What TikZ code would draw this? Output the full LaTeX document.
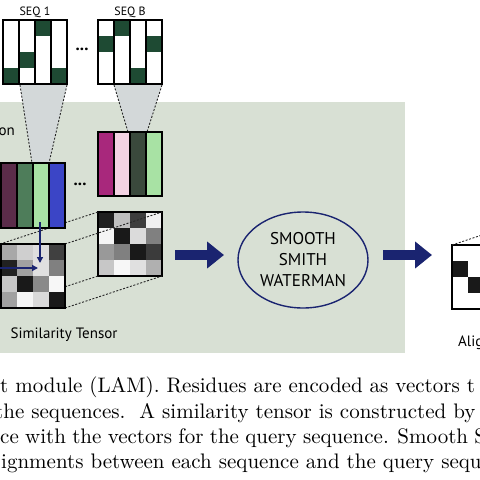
\documentclass[tikz,border=0pt]{standalone}
\usepackage{fontspec}
\newfontfamily\lab{PT Sans}
\newfontfamily\capfont{lmroman10-regular}[Extension=.otf]
\usetikzlibrary{arrows.meta,shapes.geometric}
\definecolor{panel}{HTML}{D8E0D4}
\definecolor{funnel}{HTML}{D3D8D9}
\definecolor{seqdark}{HTML}{1E4A33}
\definecolor{navy}{HTML}{1A2470}
\definecolor{qa}{HTML}{5B2C4A}
\definecolor{qb}{HTML}{4E7D5A}
\definecolor{qc}{HTML}{A8E2A4}
\definecolor{qd}{HTML}{3B45C6}
\definecolor{ba}{HTML}{A8287C}
\definecolor{bb}{HTML}{F3D3E3}
\definecolor{bc}{HTML}{3A493C}
\tikzset{
  boxline/.style={draw=black,line width=1.3pt},
  dashline/.style={draw=black!85,line width=0.9pt,dash pattern=on 2pt off 1.6pt},
  bigarrow/.style={draw=navy,line width=10pt,-{Triangle[length=17pt,width=26pt]}},
  smallarrow/.style={draw=navy,line width=1.4pt,-{Triangle[length=6pt,width=6pt]}},
  lbl/.style={inner sep=0pt,font=\lab\fontsize{15}{17}\selectfont},
  dotstext/.style={inner sep=0pt,font=\lab\bfseries\fontsize{17}{17}\selectfont},
  captext/.style={inner sep=0pt,anchor=base west,font=\capfont\fontsize{21}{25}\selectfont},
}
\begin{document}
\begin{tikzpicture}[x=1pt,y=-1pt]
\useasboundingbox (0,0) rectangle (480,480);
\clip (0,0) rectangle (480,480);
% panel
\fill[panel] (0,102) rectangle (405,353);
% funnels
\fill[funnel] (20,85) -- (67,85) -- (49,163) -- (32,163) -- cycle;
\draw[dashline] (20,85) -- (32,163) (67,85) -- (49,163);
\fill[funnel] (114,85) -- (162,85) -- (147,132) -- (128,132) -- cycle;
\draw[dashline] (114,85) -- (128,132) (162,85) -- (147,132);
% SEQ 1
\fill[white] (3,20) rectangle (67,84);
\foreach \c/\r in {0/3,1/2,2/0,3/3} \fill[seqdark] ({3+16*\c},{20+16*\r}) rectangle +(16,16);
\foreach \c in {0,...,3} \draw[boxline] ({3+16*\c},20) rectangle +(16,64);
\node[lbl,font=\lab\fontsize{12}{14}\selectfont] (seq1) at (35,12) {SEQ 1};
% SEQ B
\fill[white] (98,20) rectangle (162,84);
\foreach \c/\r in {0/1,1/0,2/3,3/1} \fill[seqdark] ({98+16*\c},{20+16*\r}) rectangle +(16,16);
\foreach \c in {0,...,3} \draw[boxline] ({98+16*\c},20) rectangle +(16,64);
\node[lbl,font=\lab\fontsize{12}{14}\selectfont] (seqb) at (130,12) {SEQ B};
\node[dotstext] (dots1) at (82,49) {...};
% "on" label
\node[lbl,anchor=west] (onlbl) at (-1.5,132) {on};
% colour box B
\foreach \c/\col in {0/ba,1/bb,2/bc,3/qc} {
  \fill[\col] ({98+16*\c},132) rectangle +(16,64);
  \draw[boxline] ({98+16*\c},132) rectangle +(16,64);
}
\node[dotstext] (dots2) at (80,184) {...};
% matrix 2 (back)
\foreach \r/\vals in {0/{12,75,24,94},1/{96,10,86,50},2/{60,50,10,23},3/{78,97,88,69}} {
  \foreach \v [count=\c from 0] in \vals
    \fill[white!\v!black] ({98+16*\c},{212+16*\r}) rectangle +(16,16);
}
\draw[boxline] (98,212) rectangle (162,276);
% perspective dashed lines
\draw[dashline] (0,244) -- (98,212);
\draw[dashline] (65,244) -- (162,212);
\draw[dashline] (0,308) -- (98,276);
\draw[dashline] (65,308) -- (162,276);
% colour box 1
\foreach \c/\col in {0/qa,1/qb,2/qc,3/qd} {
  \fill[\col] ({1+16*\c},163) rectangle +(16,65);
  \draw[boxline] ({1+16*\c},163) rectangle +(16,65);
}
% matrix 1 (front)
\foreach \r/\vals in {0/{66,81,87,25},1/{13,63,88,50},2/{78,10,54,97},3/{63,96,85,10}} {
  \foreach \v [count=\c from 0] in \vals
    \fill[white!\v!black] ({1+16*\c},{244+16*\r}) rectangle +(16,16);
}
\draw[boxline] (1,244) rectangle (65,308);
% small arrows
\coordinate (va) at (40,222);
\coordinate (vb) at (40,263);
\coordinate (ha) at (-2,268);
\coordinate (hb) at (38,268);
\draw[smallarrow] (va) -- (vb);
\draw[smallarrow] (ha) -- (hb);
\node[lbl] (simt) at (64,335) {Similarity Tensor};
% ellipse
\node[draw=navy,line width=1.4pt,ellipse,minimum width=130pt,minimum height=96pt,inner sep=0pt,align=center,
      font=\lab\fontsize{17}{21}\selectfont] (ssw) at (303,260) {SMOOTH\\SMITH\\WATERMAN};
% big arrows
\coordinate (a1s) at (175,255);
\coordinate (a1e) at (224,255);
\coordinate (a2s) at (383,255);
\coordinate (a2e) at (432,255);
\draw[bigarrow] (a1s) -- (a1e);
\draw[bigarrow] (a2s) -- (a2e);
% alignment matrix
\fill[white] (452,245) rectangle (500,309);
\fill[black!90] (452,261) rectangle +(16,16);
\fill[black!90] (468,277) rectangle +(16,16);
\draw[boxline] (452,245) rectangle (516,309);
\draw[dashline] (452,245) -- (500,229);
\node[lbl,anchor=west] (alig) at (458,343) {Alignment};
% caption
\node[captext] (l1) at (0,392) {t module (LAM). Residues are encoded as vectors t};
\node[captext] (l2) at (-5,418) {the sequences.\ \ A similarity tensor is constructed by};
\node[captext] (l3) at (0,443) {\spaceskip=6.3pt ce with the vectors for the query sequence. Smooth S};
\node[captext] (l4) at (1,468) {ignments between each sequence and the query sequ};
\end{tikzpicture}
\end{document}
